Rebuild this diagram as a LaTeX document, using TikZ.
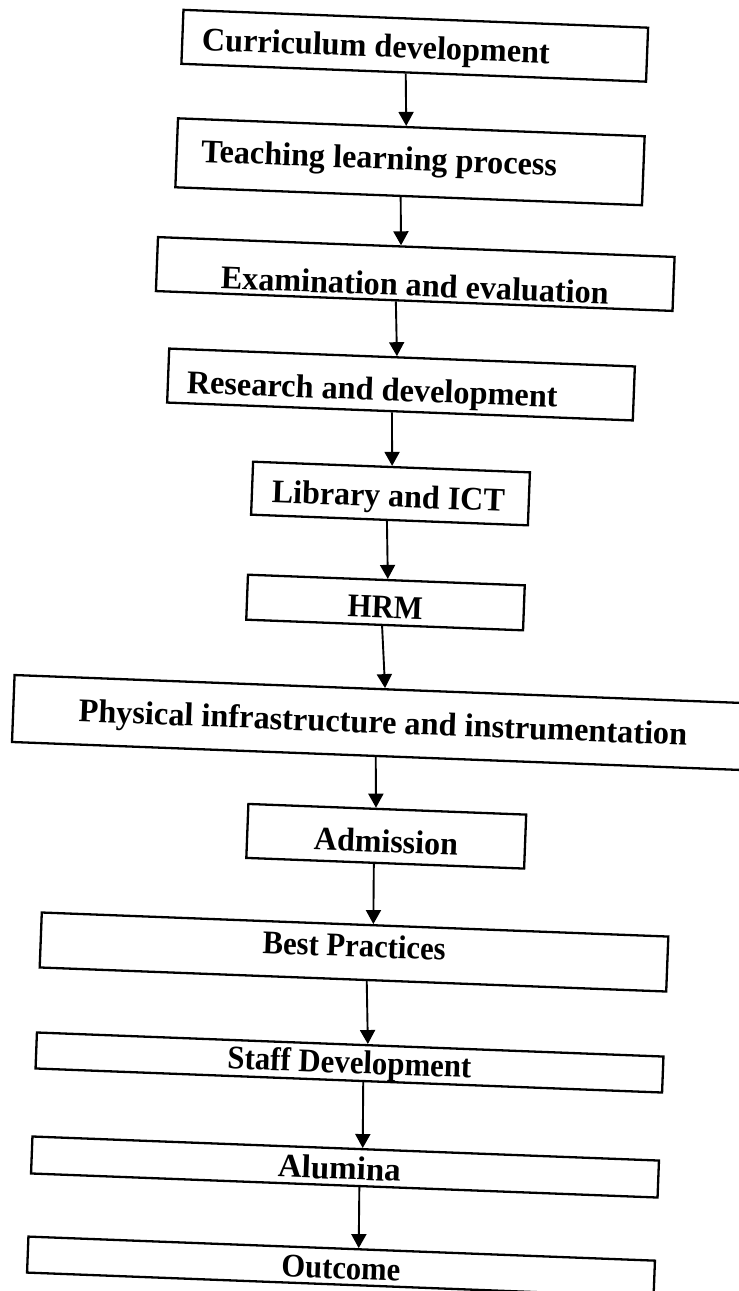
\documentclass[tikz,border=0pt]{standalone}
\usepackage{fontspec}
\setmainfont{Liberation Serif}
\usepackage{graphicx}
\usetikzlibrary{calc,arrows.meta}
\newcommand{\boxtxt}[4]{\raisebox{#3}{\resizebox{#1}{\height}{#4}}\hspace*{#2}}
\begin{document}
\begin{tikzpicture}[x=0.5pt,y=-0.5pt,
  flowbox/.style={draw=black, line width=1.15pt, rotate=-2.2, inner sep=0pt,
    text height=10.8pt, text depth=0pt, fill=white,
    font=\fontsize{16.5}{19}\selectfont\bfseries},
  flowarrow/.style={line width=0.95pt, -{Triangle[width=7.5pt,length=7pt]}}]
\fill[white] (0,0) rectangle (739,1291);
\useasboundingbox (0,0) rectangle (739,1291);
\node[flowbox, minimum width=232.5pt, minimum height=27pt] (b1) at (414.75,45.75)
  {\boxtxt{174pt}{38.75pt}{-0.9pt}{Curriculum development}};
\node[flowbox, minimum width=233.5pt, minimum height=34.5pt] (b2) at (410,161.75)
  {\boxtxt{178pt}{31pt}{1.25pt}{Teaching learning process}};
\node[flowbox, minimum width=258.5pt, minimum height=27pt] (b3) at (415.25,274)
  {\boxtxt{194pt}{0pt}{-5.75pt}{Examination and evaluation}};
\node[flowbox, minimum width=233pt, minimum height=27pt] (b4) at (401,384.5)
  {\boxtxt{185.5pt}{28.5pt}{-3pt}{Research and development}};
\node[flowbox, minimum width=138.5pt, minimum height=26.5pt] (b5) at (390.5,493.5)
  {\boxtxt{116.5pt}{2pt}{-1.25pt}{Library and ICT}};
\node[flowbox, minimum width=138.5pt, minimum height=22.5pt] (b6) at (385.5,602.5)
  {\boxtxt{37.5pt}{0pt}{-2.25pt}{HRM}};
\node[flowbox, minimum width=370pt, minimum height=33.5pt] (b7) at (383,722.7)
  {\boxtxt{304.5pt}{0pt}{0pt}{Physical infrastructure and instrumentation}};
\node[flowbox, minimum width=139pt, minimum height=27pt] (b8) at (386.25,836.25)
  {\boxtxt{72pt}{0pt}{-2.75pt}{Admission}};
\node[flowbox, minimum width=313.5pt, minimum height=27.5pt] (b9) at (354,952)
  {\boxtxt{91.5pt}{0pt}{3pt}{Best Practices}};
\node[flowbox, minimum width=313.5pt, minimum height=18pt] (b10) at (349.5,1062.5)
  {\boxtxt{122pt}{0pt}{0pt}{Staff Development}};
\node[flowbox, minimum width=313.5pt, minimum height=18.5pt] (b11) at (345,1167)
  {\boxtxt{61.5pt}{5.5pt}{-0.75pt}{Alumina}};
\node[flowbox, minimum width=313.5pt, minimum height=18pt] (b12) at (341,1266.6)
  {\boxtxt{59.5pt}{0pt}{-0.9pt}{Outcome}};
\draw[flowarrow] ($(b1.south west)!0.483!(b1.south east)$) -- ($(b2.north west)!0.489!(b2.north east)$);
\draw[flowarrow] ($(b2.south west)!0.483!(b2.south east)$) -- ($(b3.north west)!0.4705!(b3.north east)$);
\draw[flowarrow] ($(b3.south west)!0.4647!(b3.south east)$) -- ($(b4.north west)!0.489!(b4.north east)$);
\draw[flowarrow] ($(b4.south west)!0.483!(b4.south east)$) -- ($(b5.north west)!0.502!(b5.north east)$);
\draw[flowarrow] ($(b5.south west)!0.491!(b5.south east)$) -- ($(b6.north west)!0.505!(b6.north east)$);
\draw[flowarrow] ($(b6.south west)!0.491!(b6.south east)$) -- ($(b7.north west)!0.501!(b7.north east)$);
\draw[flowarrow] ($(b7.south west)!0.492!(b7.south east)$) -- ($(b8.north west)!0.4595!(b8.north east)$);
\draw[flowarrow] ($(b8.south west)!0.4595!(b8.south east)$) -- ($(b9.north west)!0.529!(b9.north east)$);
\draw[flowarrow] ($(b9.south west)!0.522!(b9.south east)$) -- ($(b10.north west)!0.528!(b10.north east)$);
\draw[flowarrow] ($(b10.south west)!0.523!(b10.south east)$) -- ($(b11.north west)!0.527!(b11.north east)$);
\draw[flowarrow] ($(b11.south west)!0.524!(b11.south east)$) -- ($(b12.north west)!0.527!(b12.north east)$);
\end{tikzpicture}
\end{document}
